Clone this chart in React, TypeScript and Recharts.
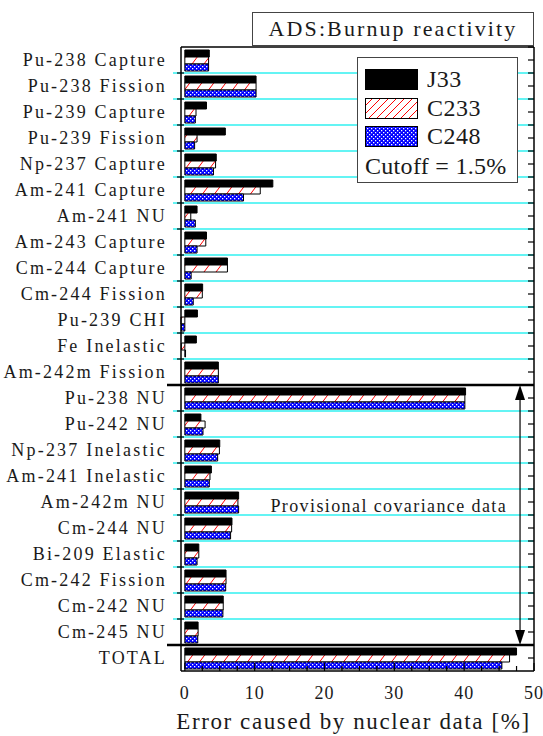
import React from 'react';
import { BarChart, Bar, XAxis, YAxis, ReferenceLine, ReferenceDot, Legend } from 'recharts';

const categories = [
  'Pu-238 Capture', 'Pu-238 Fission', 'Pu-239 Capture', 'Pu-239 Fission', 'Np-237 Capture',
  'Am-241 Capture', 'Am-241 NU', 'Am-243 Capture', 'Cm-244 Capture', 'Cm-244 Fission',
  'Pu-239 CHI', 'Fe Inelastic', 'Am-242m Fission', 'Pu-238 NU', 'Pu-242 NU',
  'Np-237 Inelastic', 'Am-241 Inelastic', 'Am-242m NU', 'Cm-244 NU', 'Bi-209 Elastic',
  'Cm-242 Fission', 'Cm-242 NU', 'Cm-245 NU', 'TOTAL',
];
const j33 = [3.5, 10.2, 3.1, 5.8, 4.5, 12.6, 1.75, 3.1, 6.1, 2.55, 1.8, 1.65, 4.8, 40.2, 2.3, 5.0, 3.8, 7.7, 6.75, 2.0, 5.9, 5.5, 1.9, 47.5];
const c233 = [3.4, 10.2, 1.6, 1.75, 4.4, 10.8, 0.85, 3.0, 6.1, 2.5, -0.55, -0.5, 4.8, 40.1, 2.9, 4.95, 3.6, 7.6, 6.7, 2.0, 5.9, 5.5, 1.9, 46.5];
const c248 = [3.4, 10.2, 1.5, 1.4, 4.1, 8.4, 1.5, 1.75, 0.9, 1.2, -0.5, 0.1, 4.8, 40.1, 2.6, 4.7, 3.5, 7.7, 6.55, 1.75, 5.85, 5.45, 1.85, 45.4];
const seriesNames = ['J33', 'C233', 'C248'];
const xTicks = [0, 2.5, 5, 7.5, 10, 12.5, 15, 17.5, 20, 22.5, 25, 27.5, 30, 32.5, 35, 37.5, 40, 42.5, 45, 47.5, 50];
// rows whose top edge carries a cyan separator
const cyanRows = [1, 2, 3, 4, 5, 6, 7, 8, 9, 10, 11, 12, 14, 15, 16, 17, 18, 19, 20, 21, 22];
// rows whose top edge carries a thick black separator
const breakRows = [13, 23];
const arrowRows = [13, 23];
const arrowX = 48;
const noteRow = 17;
const noteX = 29.2;
const titleText = 'ADS:Burnup reactivity';
const xAxisTitle = 'Error caused by nuclear data [%]';
const noteText = 'Provisional covariance data';
const cutoffText = 'Cutoff = 1.5%';

const data = categories.map((name, i) => ({ name, J33: j33[i], C233: c233[i], C248: c248[i] }));

const FONT = '"Liberation Serif", serif';
const TXT = '#1a1a1a';

const fills: Record<string, string> = { J33: '#000000', C233: 'url(#hatchRed)', C248: 'url(#dotBlue)' };
const legendFills: Record<string, string> = { J33: '#000000', C233: 'url(#lgHatchRed)', C248: 'url(#lgDotBlue)' };

function CategoryTick(props: any) {
  const { x, y, payload } = props;
  return (
    <text x={x - 14} y={y} dy="0.36em" textAnchor="end" fontFamily={FONT} fontSize={18} letterSpacing={2.2} fill={TXT}>
      {payload.value}
    </text>
  );
}

function RightTick(props: any) {
  const { x, y, payload } = props;
  const h = payload && typeof payload.offset === 'number' ? payload.offset : 0;
  return (
    <g>
      <line x1={x} x2={x - 6} y1={y} y2={y} stroke="#000" strokeWidth={1.2} />
      <line x1={x} x2={x - 6} y1={y - h} y2={y - h} stroke="#000" strokeWidth={1.2} />
    </g>
  );
}

function BottomTick(props: any) {
  const { x, y, payload } = props;
  const v = payload.value;
  const major = v % 10 === 0;
  return (
    <g>
      <line x1={x} x2={x} y1={y} y2={y - (major ? 8 : 5)} stroke="#000" strokeWidth={1.2} />
      {major && (
        <text x={x} y={y + 28} textAnchor="middle" fontFamily={FONT} fontSize={18} letterSpacing={1} fill={TXT}>
          {v}
        </text>
      )}
    </g>
  );
}

function TopTick(props: any) {
  const { x, y, payload } = props;
  const major = payload.value % 10 === 0;
  return <line x1={x} x2={x} y1={y} y2={y + (major ? 8 : 5)} stroke="#000" strokeWidth={1.2} />;
}

function CyanLine(props: any) {
  const { x1, y1, x2, y2 } = props;
  return (
    <g>
      <line x1={x1 - 8} y1={y1} x2={x2} y2={y2} stroke="#30f0f0" strokeWidth={1.6} />
      <line x1={x1 - 4} y1={y1} x2={x1 + 3} y2={y1} stroke="#000" strokeWidth={1.2} />
    </g>
  );
}

function BreakLine(props: any) {
  const { x1, y1, x2, y2 } = props;
  return <line x1={x1 - 14} y1={y1} x2={x2} y2={y2} stroke="#000" strokeWidth={2.5} />;
}

function ArrowShape(props: any) {
  const { x1, y1, x2, y2 } = props;
  const top = Math.min(y1, y2);
  const bot = Math.max(y1, y2);
  const x = x1;
  return (
    <g>
      <line x1={x} x2={x2} y1={top + 12} y2={bot - 12} stroke="#000" strokeWidth={1.2} />
      <polygon points={`${x},${top} ${x - 5},${top + 15} ${x + 5},${top + 15}`} fill="#000" />
      <polygon points={`${x},${bot} ${x - 5},${bot - 15} ${x + 5},${bot - 15}`} fill="#000" />
    </g>
  );
}

function NoteShape(props: any) {
  const { cx, cy } = props;
  return (
    <text x={cx} y={cy} dy="0.55em" textAnchor="middle" fontFamily={FONT} fontSize={18} letterSpacing={1.4} fill={TXT}>
      {noteText}
    </text>
  );
}

function LegendContent() {
  const tops = [11, 40, 68];
  return (
    <div style={{ position: 'relative', width: 161, height: 126, fontFamily: FONT, color: TXT }}>
      <svg width={0} height={0} style={{ position: 'absolute' }}>
        <defs>
          <pattern id="lgHatchRed" patternUnits="userSpaceOnUse" width={8} height={8}>
            <rect width={8} height={8} fill="#fff" />
            <path d="M0,8 L8,0 M-2,2 L2,-2 M6,10 L10,6" stroke="#ff0000" strokeWidth={1} />
          </pattern>
          <pattern id="lgDotBlue" patternUnits="userSpaceOnUse" width={4} height={4}>
            <rect width={4} height={4} fill="#0000ff" />
            <rect x={0} y={0} width={1.3} height={1.3} fill="#fff" />
            <rect x={2} y={2} width={1.3} height={1.3} fill="#fff" />
          </pattern>
        </defs>
      </svg>
      {seriesNames.map((name, i) => (
        <div key={name} style={{ position: 'absolute', left: 7, top: tops[i], display: 'flex', alignItems: 'center' }}>
          <svg width={53} height={21} style={{ display: 'block' }}>
            <rect x={0.5} y={0.5} width={52} height={20} fill={legendFills[name]} stroke="#000" strokeWidth={1} />
          </svg>
          <span style={{ marginLeft: 9, fontSize: 24, lineHeight: '21px', letterSpacing: 0.5 }}>{name}</span>
        </div>
      ))}
      <div style={{ position: 'absolute', left: 7, top: 94, fontSize: 24, lineHeight: '28px', letterSpacing: 0.3, whiteSpace: 'nowrap' }}>
        {cutoffText}
      </div>
    </div>
  );
}

export default function App() {
  return (
    <div style={{ position: 'absolute', left: 0, top: 0, width: 543, height: 736, background: '#fff' }}>
      <div
        style={{
          position: 'absolute', left: 252, top: 12, width: 282, height: 34, boxSizing: 'border-box',
          border: '1px solid #444', fontFamily: FONT, fontSize: 22, letterSpacing: 2.1, color: TXT,
          textAlign: 'center', lineHeight: '32px', zIndex: 2, background: '#fff', whiteSpace: 'nowrap',
        }}
      >
        {titleText}
      </div>
      <BarChart
        width={543}
        height={736}
        data={data}
        layout="vertical"
        margin={{ top: 0, right: 0, bottom: 0, left: 0 }}
        barSize={7}
        barGap={0}
        barCategoryGap={0}
      >
        <defs>
          <pattern id="hatchRed" patternUnits="userSpaceOnUse" width={12} height={16}>
            <rect width={12} height={16} fill="#fff" />
            <path d="M0,16 L12,0 M-1.5,2 L1.5,-2 M10.5,18 L13.5,14" stroke="#ff0000" strokeWidth={1} />
          </pattern>
          <pattern id="dotBlue" patternUnits="userSpaceOnUse" width={4} height={4}>
            <rect width={4} height={4} fill="#0000ff" />
            <rect x={0} y={0} width={1.3} height={1.3} fill="#fff" />
            <rect x={2} y={2} width={1.3} height={1.3} fill="#fff" />
          </pattern>
        </defs>
        <XAxis
          xAxisId="bottom"
          type="number"
          domain={() => [0, 50]}
          ticks={xTicks}
          interval={0}
          height={65}
          tickSize={0}
          tickMargin={0}
          tickLine={false}
          tick={<BottomTick />}
          axisLine={{ stroke: '#000', strokeWidth: 1.5 }}
          label={{ value: xAxisTitle, position: 'insideBottom', offset: 7, dx: -4, style: { fontFamily: FONT, fontSize: 23, letterSpacing: 1.6, fill: TXT } }}
        />
        <XAxis
          xAxisId="top"
          orientation="top"
          type="number"
          domain={[0, 50]}
          ticks={xTicks}
          interval={0}
          height={47}
          tickSize={0}
          tickMargin={0}
          tickLine={false}
          tick={<TopTick />}
          axisLine={{ stroke: '#000', strokeWidth: 1.5 }}
        />
        <YAxis
          yAxisId="cat"
          type="category"
          dataKey="name"
          width={181}
          interval={0}
          tickLine={false}
          tickSize={0}
          tickMargin={0}
          tick={<CategoryTick />}
          axisLine={{ stroke: '#000', strokeWidth: 1.5 }}
        />
        <YAxis
          yAxisId="right"
          type="category"
          dataKey="name"
          orientation="right"
          width={9}
          interval={0}
          tickSize={0}
          tickMargin={0}
          tickLine={false}
          tick={<RightTick />}
          axisLine={{ stroke: '#000', strokeWidth: 1.5 }}
        />
        {cyanRows.map((r) => (
          <ReferenceLine key={`c${r}`} xAxisId="bottom" yAxisId="cat" y={categories[r]} position="start" shape={CyanLine} />
        ))}
        <Legend
          layout="vertical"
          align="center"
          verticalAlign="middle"
          content={<LegendContent />}
          wrapperStyle={{ position: 'absolute', left: 357, top: 57, width: 161, height: 126, border: '1px solid #444', background: '#fff', boxSizing: 'border-box' }}
        />
        {seriesNames.map((s) => (
          <Bar
            key={s}
            xAxisId="bottom"
            yAxisId="cat"
            dataKey={s}
            name={s}
            fill={fills[s]}
            stroke="#000"
            strokeWidth={1}
            isAnimationActive={false}
          />
        ))}
        {breakRows.map((r) => (
          <ReferenceLine key={`b${r}`} xAxisId="bottom" yAxisId="cat" y={categories[r]} position="start" shape={BreakLine} />
        ))}
        <ReferenceLine
          xAxisId="bottom"
          yAxisId="cat"
          position="start"
          segment={[{ x: arrowX, y: categories[arrowRows[0]] }, { x: arrowX, y: categories[arrowRows[1]] }]}
          shape={ArrowShape}
        />
        <ReferenceDot xAxisId="bottom" yAxisId="cat" x={noteX} y={categories[noteRow]} r={0} shape={NoteShape} />
      </BarChart>
    </div>
  );
}
